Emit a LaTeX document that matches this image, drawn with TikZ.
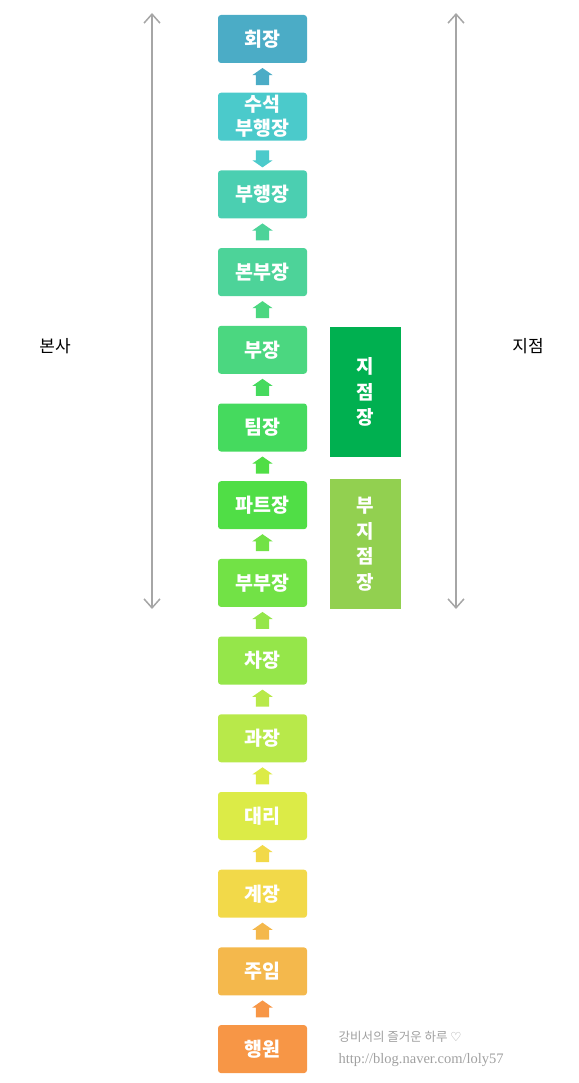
\documentclass[tikz,border=0pt]{standalone}
\usepackage{fontspec}
\setmainfont{Noto Sans CJK KR}
\newfontfamily\urlfont{Liberation Serif}
\newfontfamily\symfont{DejaVu Sans}
\usetikzlibrary{arrows.meta,shapes.arrows,calc}
\definecolor{rk1}{HTML}{4BACC6}
\definecolor{rk2}{HTML}{4BCACB}
\definecolor{rk3}{HTML}{4BCFB1}
\definecolor{rk4}{HTML}{4DD399}
\definecolor{rk5}{HTML}{4BD780}
\definecolor{rk6}{HTML}{45DA5E}
\definecolor{rk7}{HTML}{50DE46}
\definecolor{rk8}{HTML}{72E246}
\definecolor{rk9}{HTML}{95E64A}
\definecolor{rk10}{HTML}{B8E94A}
\definecolor{rk11}{HTML}{DCEB47}
\definecolor{rk12}{HTML}{F2D949}
\definecolor{rk13}{HTML}{F4B84C}
\definecolor{rk14}{HTML}{F79646}
\definecolor{cjj}{HTML}{00B050}
\definecolor{cbj}{HTML}{92D050}
\definecolor{cline}{HTML}{A6A6A6}
\definecolor{cmark}{HTML}{A0A0A0}
\tikzset{
  rank/.style={rounded corners=3pt,minimum width=89pt,minimum height=48pt,inner sep=0pt,text=white,font=\fontsize{19.5}{24}\selectfont\bfseries,align=center},
  sidebox/.style={minimum width=71pt,minimum height=130pt,inner sep=0pt,text=white,font=\fontsize{19}{25.5}\selectfont\bfseries,align=center},
  blockarr/.style={single arrow,single arrow head extend=3.5pt,single arrow tip angle=110,minimum width=20pt,minimum height=17pt,inner xsep=0pt,inner ysep=6.5pt},
  spanline/.style={draw=cline,line width=1.5pt,{Straight Barb[length=9pt,width=16pt]}-{Straight Barb[length=9pt,width=16pt]}},
  sidelabel/.style={font=\fontsize{17}{20}\selectfont},
}

\begin{document}
\begin{tikzpicture}[x=1pt,y=-1pt]
\useasboundingbox (0,0) rectangle (578,1083);

% ================= ranks =================
\foreach \t/\c [count=\i] in {회장/rk1,수석\\부행장/rk2,부행장/rk3,본부장/rk4,부장/rk5,팀장/rk6,파트장/rk7,
    부부장/rk8,차장/rk9,과장/rk10,대리/rk11,계장/rk12,주임/rk13,행원/rk14}{
  \node[rank,fill=\c] (r\i) at (262.5,{39+(\i-1)*77.7}) {\t};
}
\foreach \i/\j/\r/\c in {1/2/90/rk1,2/3/270/rk2,3/4/90/rk4,4/5/90/rk5,5/6/90/rk6,6/7/90/rk7,7/8/90/rk8,
    8/9/90/rk9,9/10/90/rk10,10/11/90/rk11,11/12/90/rk12,12/13/90/rk13,13/14/90/rk14}{
  \node[blockarr,fill=\c,rotate=\r] (a\i) at ($(r\i.south)!0.5!(r\j.north)+(0,1)$) {};
}

% ================= branch =================
\node[sidebox,fill=cjj] (jj) at (365.5,392) {지\\점\\장};
\node[sidebox,fill=cbj] (bj) at (365.5,544) {부\\지\\점\\장};

% ================= spans =================
\coordinate (hqtop) at (152,13);
\coordinate (hqbot) at (152,609);
\coordinate (brtop) at (456,13);
\coordinate (brbot) at (456,609);
\draw[spanline] (hqtop) -- (hqbot);
\draw[spanline] (brtop) -- (brbot);
\node[sidelabel] (hq) at (55,346) {본사};
\node[sidelabel] (br) at (528,346) {지점};

% ================= watermark =================
\node[anchor=west,text=cmark,font=\fontsize{12.5}{14}\selectfont] (blog) at (335,1037) {강비서의 즐거운 하루 {\symfont ♡}};
\node[anchor=west,text=cmark,font=\urlfont\fontsize{14.5}{16}\selectfont] (url) at (335,1060) {http://blog.naver.com/loly57};

\end{tikzpicture}
\end{document}
